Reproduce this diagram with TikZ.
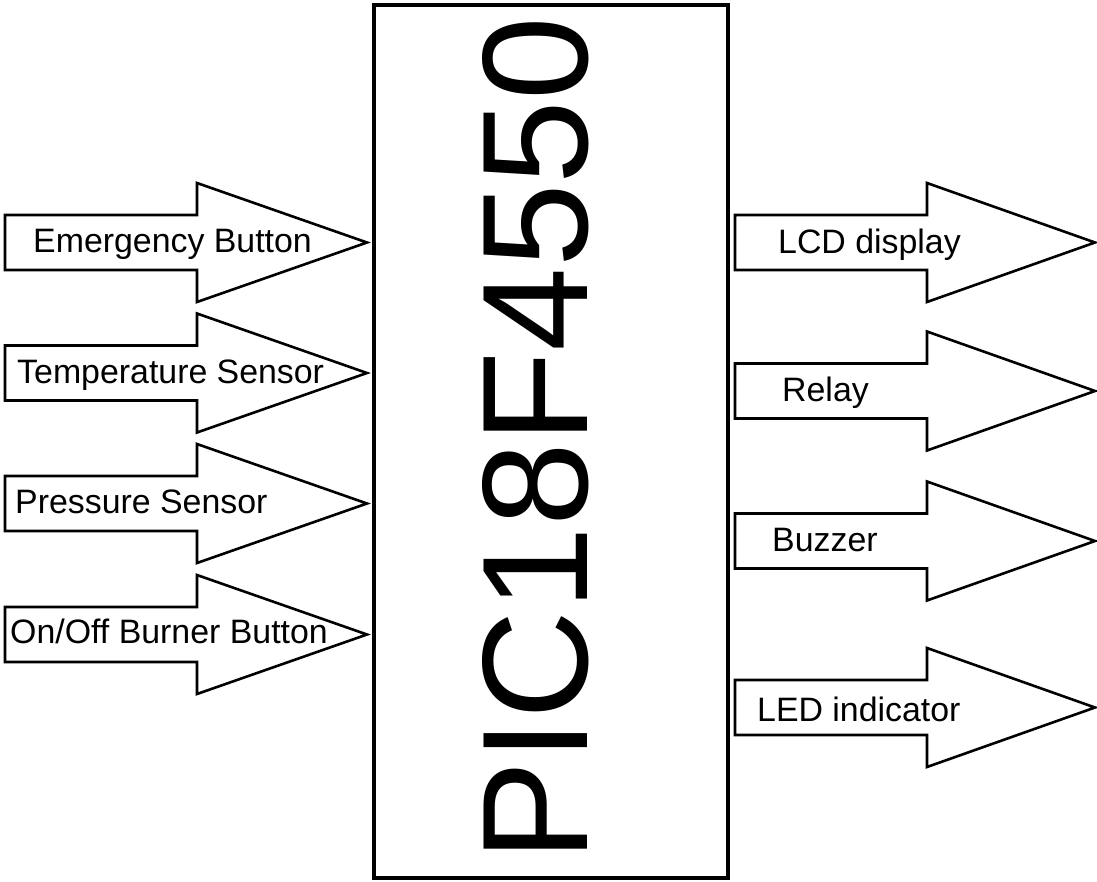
\documentclass[tikz,border=0pt]{standalone}
\usepackage{fontspec}
\setmainfont{Liberation Sans}
\newcommand\blockarrow[5]{% name, tail x, head base x, tip x, centre y
  \draw[arrowline] (#2,#5-27.5) -- (#3,#5-27.5) -- (#3,#5-59.5) -- (#4,#5)
    -- (#3,#5+59.5) -- (#3,#5+27.5) -- (#2,#5+27.5) -- cycle;
  \coordinate (#1) at (#2,#5);}
\tikzset{
  arrowline/.style={line width=2.6bp, line join=miter, black},
  lbl/.style={anchor=base west, inner sep=0pt, font=\fontsize{34}{40}\selectfont},
}
\begin{document}
\begin{tikzpicture}[x=1bp,y=-1bp]
\useasboundingbox (0,0) rectangle (1097,882);
\fill[white] (0,0) rectangle (1097,882);
% main block
\draw[line width=3.2bp] (374,5) rectangle (728,878);
\node (box) at (551,441.5) {};
\node[rotate=90, inner sep=0pt, font=\fontsize{151}{170}\selectfont] (pic) at (536,439) {PIC18F4550};
% inputs
\blockarrow{a1}{5}{197}{367}{242.5}
\blockarrow{a2}{5}{197}{367}{373}
\blockarrow{a3}{5}{197}{367}{503.5}
\blockarrow{a4}{5}{197}{367}{634.5}
\node[lbl] (t1) at (33,252) {Emergency Button};
\node[lbl] (t2) at (17,383) {Temperature Sensor};
\node[lbl] (t3) at (15,513) {Pressure Sensor};
\node[lbl] (t4) at (10,643) {On/Off Burner Button};
% outputs
\blockarrow{b1}{735}{927}{1095}{242.5}
\blockarrow{b2}{735}{927}{1095}{391}
\blockarrow{b3}{735}{927}{1095}{541}
\blockarrow{b4}{735}{927}{1095}{707.5}
\node[lbl] (u1) at (778,253) {LCD display};
\node[lbl] (u2) at (782,401) {Relay};
\node[lbl] (u3) at (772,551) {Buzzer};
\node[lbl] (u4) at (757,721) {LED indicator};
\end{tikzpicture}
\end{document}
